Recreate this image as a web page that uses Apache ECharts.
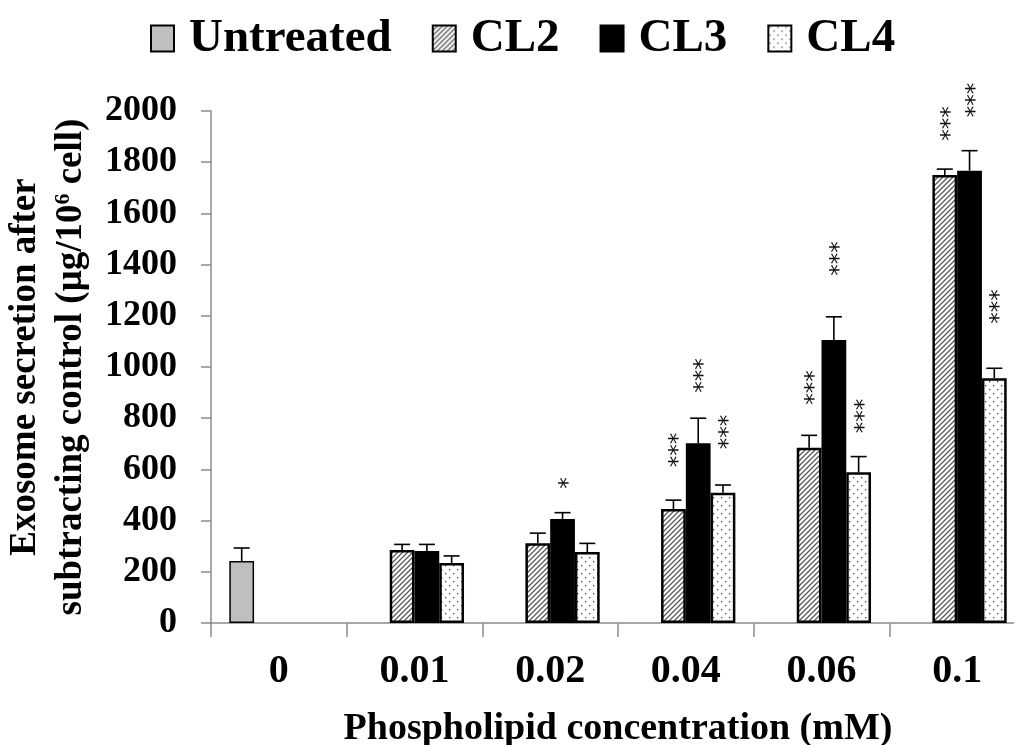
<!DOCTYPE html>
<html>
<head>
<meta charset="utf-8">
<script src="https://cdn.jsdelivr.net/npm/echarts@6/dist/echarts.min.js"></script>
<style>
html, body { margin: 0; padding: 0; background: #fff; }
#main { width: 1014px; height: 745px; }
</style>
</head>
<body>
<div id="main"></div>
<script>
// categories and values
var categories = ['0', '0.01', '0.02', '0.04', '0.06', '0.1'];
var untreated = [242, '-', '-', '-', '-', '-'];
var untreatedErr = [51, 0, 0, 0, 0, 0];
var cl2 = ['-', 285, 312, 445, 685, 1750];
var cl2Err = [0, 22, 39, 35, 48, 23];
var cl3 = ['-', 281, 406, 702, 1105, 1767];
var cl3Err = [0, 26, 25, 98, 91, 78];
var cl4 = ['-', 234, 277, 509, 589, 956];
var cl4Err = [0, 28, 34, 30, 61, 39];
// significance marks and where their centre sits (in axis units)
var cl2Sig = ['', '', '', '***', '***', '***'];
var cl2SigAt = [0, 0, 0, 676, 920, 1951];
var cl3Sig = ['', '', '*', '***', '***', '***'];
var cl3SigAt = [0, 0, 547, 967, 1424, 2043];
var cl4Sig = ['', '', '', '***', '***', '***'];
var cl4SigAt = [0, 0, 0, 746, 809, 1236];
var yTicks = [0, 200, 400, 600, 800, 1000, 1200, 1400, 1600, 1800, 2000];

var serif = '"Liberation Serif", "Times New Roman", serif';

function hatchPattern() {
    var c = document.createElement('canvas');
    c.width = 5; c.height = 5;
    var ctx = c.getContext('2d');
    ctx.fillStyle = '#fff';
    ctx.fillRect(0, 0, 5, 5);
    ctx.strokeStyle = '#5a5a5a';
    ctx.lineWidth = 1.3;
    ctx.beginPath();
    ctx.moveTo(-1, 6); ctx.lineTo(6, -1);
    ctx.moveTo(-1, 1); ctx.lineTo(1, -1);
    ctx.moveTo(4, 6); ctx.lineTo(6, 4);
    ctx.stroke();
    return c;
}

function dotPattern() {
    var c = document.createElement('canvas');
    c.width = 8; c.height = 8;
    var ctx = c.getContext('2d');
    ctx.fillStyle = '#fff';
    ctx.fillRect(0, 0, 8, 8);
    ctx.fillStyle = '#444';
    ctx.fillRect(1, 1, 1.3, 1.3);
    ctx.fillRect(5, 5, 1.3, 1.3);
    return c;
}

var myChart = echarts.init(document.getElementById('main'), null, { renderer: 'canvas' });

var barGapRatio = 0.27;

// error bars + asterisks, slot = position of the bar within its group (0..3)
function errSeries(name, vals, errs, sig, sigAt, slot) {
    var data = [];
    for (var i = 0; i < categories.length; i++) {
        if (vals[i] === '-') continue;
        data.push([i, vals[i], errs[i], sigAt[i], sig[i]]);
    }
    return {
        type: 'custom',
        name: name + ' err',
        z: 5,
        silent: true,
        clip: false,
        encode: { x: 0, y: 1 },
        data: data,
        renderItem: function (params, api) {
            var band = api.size([1, 0])[0];
            var bw = band * (1 - barGapRatio) / 4;
            var off = (slot - 1.5) * bw;
            var base = api.coord([api.value(0), api.value(1)]);
            var top = api.coord([api.value(0), api.value(1) + api.value(2)]);
            var x = base[0] + off;
            var kids = [
                { type: 'line', shape: { x1: x, y1: base[1], x2: x, y2: top[1] },
                  style: { stroke: '#000', lineWidth: 1.6 } },
                { type: 'line', shape: { x1: x - 8, y1: top[1], x2: x + 8, y2: top[1] },
                  style: { stroke: '#000', lineWidth: 1.6 } }
            ];
            var s = data[params.dataIndex][4];
            if (s) {
                var p = api.coord([api.value(0), api.value(3)]);
                kids.push({
                    type: 'text', x: x + 6, y: p[1], rotation: Math.PI / 2,
                    style: { text: s, font: '23px "DejaVu Sans", sans-serif', fill: '#111',
                             align: 'center', verticalAlign: 'middle' }
                });
            }
            return { type: 'group', children: kids };
        }
    };
}

var barBase = { type: 'bar', barGap: '0%', barCategoryGap: (barGapRatio * 100) + '%' };

var option = {
    backgroundColor: '#fff',
    animation: false,
    legend: {
        left: 145,
        top: 10,
        itemWidth: 23,
        itemHeight: 26,
        itemGap: 40,
        icon: 'rect',
        data: ['Untreated', 'CL2', 'CL3', 'CL4'],
        textStyle: {
            fontFamily: serif, fontWeight: 'bold', fontSize: 47, color: '#000',
            padding: [0, 0, 0, 10]
        }
    },
    grid: {
        left: 211,
        top: 111,
        right: -11,
        bottom: 122,
        containLabel: false,
        outerBoundsMode: 'none'
    },
    xAxis: {
        type: 'category',
        data: categories,
        name: 'Phospholipid concentration (mM)',
        nameLocation: 'middle',
        nameGap: 87,
        nameTextStyle: { fontFamily: serif, fontWeight: 'bold', fontSize: 38, color: '#000' },
        axisLine: { show: true, lineStyle: { color: '#8c8c8c', width: 1.5 } },
        axisTick: { show: true, length: 14, lineStyle: { color: '#8c8c8c', width: 1.5 } },
        axisLabel: { interval: 0, margin: 29, fontFamily: serif, fontWeight: 'bold', fontSize: 40, color: '#000' },
        splitLine: { show: false }
    },
    yAxis: {
        type: 'value',
        min: yTicks[0],
        max: yTicks[yTicks.length - 1],
        interval: 200,
        name: '{t|Exosome secretion after}\n{t|subtracting control (μg/10}{s|6}{t| cell)}',
        nameLocation: 'middle',
        nameGap: 101,
        nameRotate: 90,
        nameTextStyle: {
            color: '#000',
            lineHeight: 46,
            rich: {
                t: { fontFamily: serif, fontWeight: 'bold', fontSize: 37, lineHeight: 46, color: '#000' },
                s: { fontFamily: serif, fontWeight: 'bold', fontSize: 22, lineHeight: 46, color: '#000', verticalAlign: 'top', padding: [4, 0, 0, 0] }
            }
        },
        axisLine: { show: true, lineStyle: { color: '#8c8c8c', width: 1.5 } },
        axisTick: { show: true, length: 10, lineStyle: { color: '#8c8c8c', width: 1.5 } },
        axisLabel: {
            margin: 34, fontFamily: serif, fontWeight: 'bold', fontSize: 36, color: '#000',
            formatter: function (v) { return String(v); }
        },
        splitLine: { show: false }
    },
    series: [
        Object.assign({}, barBase, {
            name: 'Untreated', data: untreated,
            itemStyle: { color: '#bfbfbf', borderColor: '#000', borderWidth: 1.5 }
        }),
        Object.assign({}, barBase, {
            name: 'CL2', data: cl2,
            itemStyle: { color: { image: hatchPattern(), repeat: 'repeat' }, borderColor: '#000', borderWidth: 2.5 }
        }),
        Object.assign({}, barBase, {
            name: 'CL3', data: cl3,
            itemStyle: { color: '#000', borderColor: '#000', borderWidth: 2.5 }
        }),
        Object.assign({}, barBase, {
            name: 'CL4', data: cl4,
            itemStyle: { color: { image: dotPattern(), repeat: 'repeat' }, borderColor: '#000', borderWidth: 2.5 }
        }),
        errSeries('Untreated', untreated, untreatedErr, ['', '', '', '', '', ''], [0, 0, 0, 0, 0, 0], 0),
        errSeries('CL2', cl2, cl2Err, cl2Sig, cl2SigAt, 1),
        errSeries('CL3', cl3, cl3Err, cl3Sig, cl3SigAt, 2),
        errSeries('CL4', cl4, cl4Err, cl4Sig, cl4SigAt, 3)
    ]
};

myChart.setOption(option);
</script>
</body>
</html>
